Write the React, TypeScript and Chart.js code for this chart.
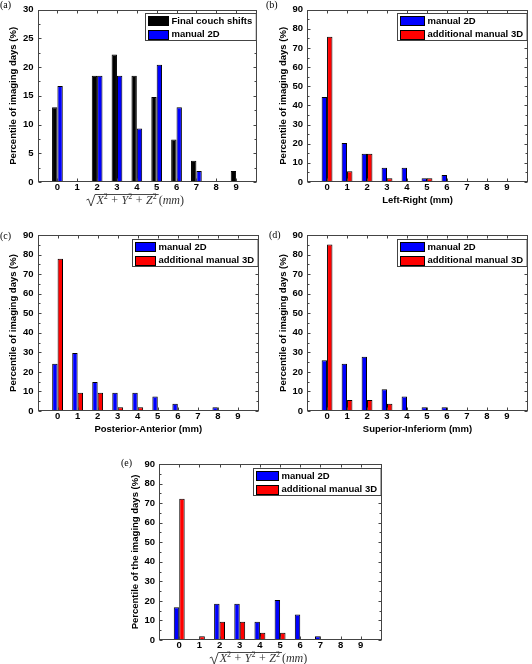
import React, { useEffect, useRef } from "react";
import { Chart, registerables } from "chart.js";

Chart.register(...registerables);

const W = 532;
const H = 664;

// ---- data ----
const categories = [0, 1, 2, 3, 4, 5, 6, 7, 8, 9];
const yTicks30 = [0, 5, 10, 15, 20, 25, 30];
const yTicks90 = [0, 10, 20, 30, 40, 50, 60, 70, 80, 90];

const aFinalCouch = [13.0, 0, 18.5, 22.2, 18.5, 14.8, 7.4, 3.7, 0, 1.9];
const aManual2D = [16.7, 0, 18.5, 18.5, 9.3, 20.4, 13.0, 1.9, 0, 0];

const bManual2D = [44.4, 20.4, 14.8, 7.4, 7.4, 1.9, 3.7, 0, 0, 0];
const bAdditional3D = [75.9, 5.6, 14.8, 1.9, 0, 1.9, 0, 0, 0, 0];

const cManual2D = [24.1, 29.6, 14.8, 9.3, 9.3, 7.4, 3.7, 0, 1.9, 0];
const cAdditional3D = [77.8, 9.3, 9.3, 1.9, 1.9, 0, 0, 0, 0, 0];

const dManual2D = [25.9, 24.1, 27.8, 11.1, 7.4, 1.9, 1.9, 0, 0, 0];
const dAdditional3D = [85.2, 5.6, 5.6, 3.7, 0, 0, 0, 0, 0, 0];

const eManual2D = [16.7, 0, 18.5, 18.5, 9.3, 20.4, 13.0, 1.9, 0, 0];
const eAdditional3D = [72.2, 1.9, 9.3, 9.3, 3.7, 3.7, 0, 0, 0, 0];

const BLACK = "#000000";
const BLUE = "#0000ff";
const RED = "#ff0000";
const AXIS = "#444444";
const SANS = "'Liberation Sans', Arial, Helvetica, sans-serif";
const SERIF = "'Liberation Serif', 'DejaVu Serif', 'Times New Roman', serif";
const FS = 9.5;

type Series = { label: string; color: string; values: number[] };
type PanelCfg = {
  L: number; T: number; R: number; B: number;
  yMax: number; yTicks: number[];
  series: Series[];
  swatchW: number;
  yTitle: string;
  xTitle: string | null; // null => math label
  tag: string; tagX: number; tagY: number;
};

const panels: PanelCfg[] = [
  {
    L: 37.5, T: 5.5, R: 257, B: 182, yMax: 30, yTicks: yTicks30,
    series: [
      { label: "Final couch shifts", color: BLACK, values: aFinalCouch },
      { label: "manual 2D", color: BLUE, values: aManual2D },
    ],
    swatchW: 20, yTitle: "Percentile of imaging days (%)", xTitle: null,
    tag: "(a)", tagX: 0, tagY: 5,
  },
  {
    L: 307, T: 6, R: 528, B: 182, yMax: 90, yTicks: yTicks90,
    series: [
      { label: "manual 2D", color: BLUE, values: bManual2D },
      { label: "additional manual 3D", color: RED, values: bAdditional3D },
    ],
    swatchW: 24, yTitle: "Percentile of imaging days (%)", xTitle: "Left-Right (mm)",
    tag: "(b)", tagX: 266, tagY: 5,
  },
  {
    L: 37.5, T: 235, R: 259, B: 411, yMax: 90, yTicks: yTicks90,
    series: [
      { label: "manual 2D", color: BLUE, values: cManual2D },
      { label: "additional manual 3D", color: RED, values: cAdditional3D },
    ],
    swatchW: 20, yTitle: "Percentile of imaging days (%)", xTitle: "Posterior-Anterior (mm)",
    tag: "(c)", tagX: 0, tagY: 236,
  },
  {
    L: 307, T: 235, R: 528, B: 411, yMax: 90, yTicks: yTicks90,
    series: [
      { label: "manual 2D", color: BLUE, values: dManual2D },
      { label: "additional manual 3D", color: RED, values: dAdditional3D },
    ],
    swatchW: 24, yTitle: "Percentile of imaging days (%)", xTitle: "Superior-Inferiorm (mm)",
    tag: "(d)", tagX: 269, tagY: 235,
  },
  {
    L: 159, T: 464, R: 382, B: 640, yMax: 90, yTicks: yTicks90,
    series: [
      { label: "manual 2D", color: BLUE, values: eManual2D },
      { label: "additional manual 3D", color: RED, values: eAdditional3D },
    ],
    swatchW: 22, yTitle: "Percentile of the imaging days (%)", xTitle: null,
    tag: "(e)", tagX: 121, tagY: 463,
  },
];

function drawSqrtTitle(ctx: CanvasRenderingContext2D, cx: number, base: number) {
  const size = 12;
  const fIt = `italic ${size}px ${SERIF}`;
  const fUp = `${size}px ${SERIF}`;
  const fSup = `${Math.round(size * 0.68)}px ${SERIF}`;
  type Seg = { t: string; f: string; dy: number; pad?: number };
  const inner: Seg[] = [
    { t: "X", f: fIt, dy: 0 }, { t: "2", f: fSup, dy: -5 },
    { t: "+", f: fUp, dy: 0, pad: 3.5 },
    { t: "Y", f: fIt, dy: 0 }, { t: "2", f: fSup, dy: -5 },
    { t: "+", f: fUp, dy: 0, pad: 3.5 },
    { t: "Z", f: fIt, dy: 0 }, { t: "2", f: fSup, dy: -5 },
  ];
  const outer: Seg[] = [
    { t: "(", f: fUp, dy: 0 }, { t: "mm", f: fIt, dy: 0 }, { t: ")", f: fUp, dy: 0 },
  ];
  const segW = (s: Seg) => {
    ctx.font = s.f;
    return ctx.measureText(s.t).width + 2 * (s.pad || 0);
  };
  const wIn = inner.reduce((a, s) => a + segW(s), 0) + 3;
  const wOut = outer.reduce((a, s) => a + segW(s), 0);
  const rw = 9;
  const total = rw + wIn + wOut;
  const x0 = cx - total / 2;
  const top = base - 9.5;
  ctx.save();
  ctx.strokeStyle = "#333";
  ctx.fillStyle = "#333";
  ctx.lineWidth = 0.9;
  ctx.beginPath();
  ctx.moveTo(x0, base - 4);
  ctx.lineTo(x0 + 2, base - 5);
  ctx.lineTo(x0 + 4.5, base + 2);
  ctx.lineTo(x0 + rw - 0.5, top);
  ctx.lineTo(x0 + rw + wIn, top);
  ctx.stroke();
  ctx.textBaseline = "alphabetic";
  ctx.textAlign = "left";
  let x = x0 + rw + 1;
  for (const s of inner) {
    ctx.font = s.f;
    const w = ctx.measureText(s.t).width;
    ctx.fillText(s.t, x + (s.pad || 0), base + s.dy);
    x += w + 2 * (s.pad || 0);
  }
  x = x0 + rw + wIn;
  for (const s of outer) {
    ctx.font = s.f;
    const w = ctx.measureText(s.t).width;
    ctx.fillText(s.t, x, base + s.dy);
    x += w;
  }
  ctx.restore();
}

function makeDecor(cfg: PanelCfg) {
  return {
    id: "decor",
    afterDraw(chart: any) {
      const ctx: CanvasRenderingContext2D = chart.ctx;
      const { left, right, top, bottom } = chart.chartArea;
      const xs = chart.scales.x;
      const ys = chart.scales.y;
      ctx.save();
      // box
      ctx.strokeStyle = AXIS;
      ctx.lineWidth = 1;
      const bl = Math.round(left) + 0.5, br = Math.round(right) - 0.5;
      const bt = Math.round(top) + 0.5, bb = Math.round(bottom) - 0.5;
      ctx.strokeRect(bl, bt, br - bl, bb - bt);
      // ticks
      ctx.beginPath();
      const step = cfg.yTicks[1] - cfg.yTicks[0];
      for (let i = 0; i < cfg.yTicks.length; i++) {
        const v = cfg.yTicks[i];
        const p = Math.round(ys.getPixelForValue(v)) + 0.5;
        ctx.moveTo(bl, p); ctx.lineTo(bl + 3, p);
        ctx.moveTo(br, p); ctx.lineTo(br - 3, p);
        if (i < cfg.yTicks.length - 1) {
          const q = Math.round(ys.getPixelForValue(v + step / 2)) + 0.5;
          ctx.moveTo(bl, q); ctx.lineTo(bl + 2, q);
          ctx.moveTo(br, q); ctx.lineTo(br - 2, q);
        }
      }
      for (const c of categories) {
        const p = Math.round(xs.getPixelForValue(c)) + 0.5;
        ctx.moveTo(p, bb); ctx.lineTo(p, bb - 3);
        ctx.moveTo(p, bt); ctx.lineTo(p, bt + 3);
      }
      ctx.stroke();

      // legend
      ctx.font = `bold ${FS}px ${SANS}`;
      const tw = Math.max(...cfg.series.map((s) => ctx.measureText(s.label).width));
      const lw = 3 + cfg.swatchW + 3 + tw + 4;
      const lx = Math.round(right - 1 - lw) + 0.5;
      const ly = Math.round(top + 3.5) + 0.5;
      ctx.fillStyle = "#ffffff";
      ctx.fillRect(lx, ly, lw, 27);
      ctx.strokeStyle = AXIS;
      ctx.strokeRect(lx, ly, lw, 27);
      cfg.series.forEach((s, i) => {
        const cy = ly + 7 + i * 13.5;
        ctx.fillStyle = s.color;
        ctx.fillRect(lx + 3, Math.round(cy - 4.5), cfg.swatchW, 9);
        ctx.strokeStyle = "#000";
        ctx.strokeRect(lx + 3, Math.round(cy - 4.5) + 0.5, cfg.swatchW, 9);
        ctx.fillStyle = "#000";
        ctx.textAlign = "left";
        ctx.textBaseline = "middle";
        ctx.fillText(s.label, lx + 3 + cfg.swatchW + 3, cy + 0.5);
      });

      // y title
      ctx.save();
      ctx.translate(left - 24, (top + bottom) / 2);
      ctx.rotate(-Math.PI / 2);
      ctx.font = `bold ${FS}px ${SANS}`;
      ctx.fillStyle = "#000";
      ctx.textAlign = "center";
      ctx.textBaseline = "middle";
      ctx.fillText(cfg.yTitle, 0, 0);
      ctx.restore();

      // x title
      if (cfg.xTitle) {
        ctx.font = `bold ${FS}px ${SANS}`;
        ctx.fillStyle = "#000";
        ctx.textAlign = "center";
        ctx.textBaseline = "middle";
        ctx.fillText(cfg.xTitle, (left + right) / 2, bottom + 18.5);
      } else {
        drawSqrtTitle(ctx, (left + right) / 2 - 12, bottom + 22);
      }

      // panel tag
      ctx.font = `10px ${SERIF}`;
      ctx.fillStyle = "#000";
      ctx.textAlign = "left";
      ctx.textBaseline = "middle";
      ctx.fillText(cfg.tag, cfg.tagX, cfg.tagY);
      ctx.restore();
    },
  };
}

function Panel({ cfg }: { cfg: PanelCfg }) {
  const ref = useRef<HTMLCanvasElement>(null);
  useEffect(() => {
    const canvas = ref.current;
    if (!canvas) return;
    const tickFont = { family: SANS, size: FS, weight: "bold" as const, lineHeight: 1.2 };
    const chart = new Chart(canvas, {
      type: "bar",
      data: {
        datasets: cfg.series.map((s) => ({
          label: s.label,
          data: categories.map((c, i) => ({ x: c, y: s.values[i] })),
          backgroundColor: s.color,
          borderColor: "#000000",
          borderWidth: 1,
          borderSkipped: false,
          categoryPercentage: 0.54,
          barPercentage: 1,
        })),
      },
      options: {
        responsive: false,
        animation: false,
        events: [],
        layout: {
          padding: { left: cfg.L - 40, top: cfg.T, right: W - cfg.R, bottom: H - cfg.B - 20 },
        },
        plugins: {
          legend: { display: false },
          tooltip: { enabled: false },
          title: { display: false },
        },
        scales: {
          x: {
            type: "linear",
            min: -0.45,
            max: 9.5,
            grid: { display: false, drawTicks: false },
            border: { display: false },
            ticks: { font: tickFont, color: "#000", padding: 0, autoSkip: false, maxRotation: 0 },
            afterBuildTicks: (s: any) => {
              s.ticks = categories.map((v) => ({ value: v }));
            },
            afterFit: (s: any) => {
              s.height = 20;
            },
          },
          y: {
            type: "linear",
            min: 0,
            max: cfg.yMax,
            grid: { display: false, drawTicks: false },
            border: { display: false },
            ticks: { font: tickFont, color: "#000", padding: 4 },
            afterBuildTicks: (s: any) => {
              s.ticks = cfg.yTicks.map((v) => ({ value: v }));
            },
            afterFit: (s: any) => {
              s.width = 40;
            },
          },
        },
      } as any,
      plugins: [makeDecor(cfg)],
    });
    return () => chart.destroy();
  }, [cfg]);
  return (
    <canvas
      ref={ref}
      width={W}
      height={H}
      style={{ position: "absolute", left: 0, top: 0, width: W, height: H }}
    />
  );
}

export default function App() {
  return (
    <div style={{ position: "absolute", left: 0, top: 0, width: W, height: H, background: "#ffffff", overflow: "hidden" }}>
      {panels.map((p, i) => (
        <Panel key={i} cfg={p} />
      ))}
    </div>
  );
}
